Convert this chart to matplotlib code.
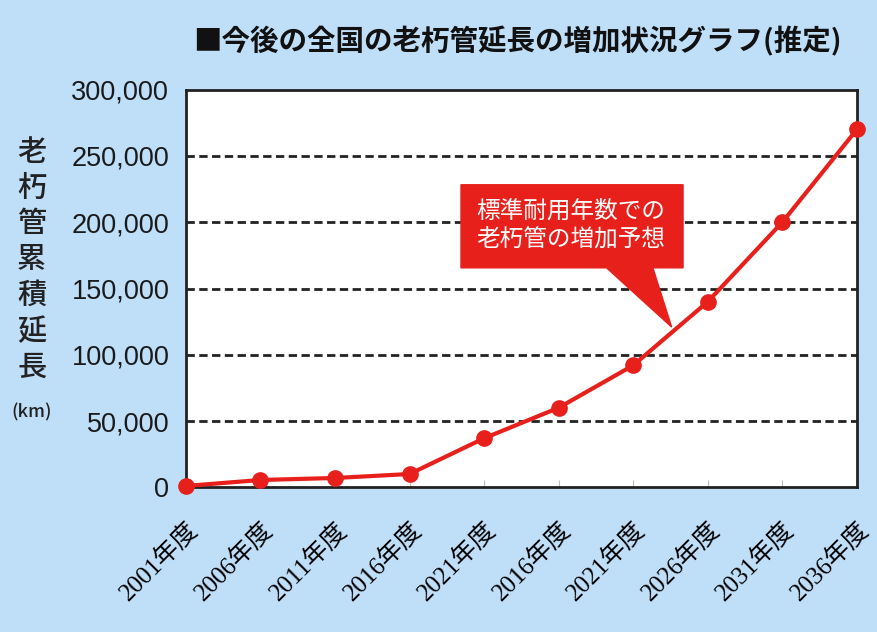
import matplotlib.pyplot as plt
from matplotlib.patches import Polygon
from matplotlib.ticker import FuncFormatter

plt.rcParams['font.family'] = ['Noto Sans CJK JP', 'DejaVu Sans']

# 年度ラベル(元の図のまま)
years = ['2001年度', '2006年度', '2011年度', '2016年度', '2021年度',
         '2016年度', '2021年度', '2026年度', '2031年度', '2036年度']
# 老朽管累積延長 (km)
length_km = [1000, 5500, 7000, 10000, 37000, 60000, 92000, 140000, 200000, 270000]
yticks = [0, 50000, 100000, 150000, 200000, 250000, 300000]

bg = '#bfdef8'
red = '#e8201c'

fig = plt.figure(figsize=(8.77, 6.32), dpi=100, facecolor=bg)
ax = fig.add_axes([0.212, 0.229, 0.765, 0.629])
ax.set_facecolor('white')

x = list(range(len(years)))
ax.plot(x, length_km, color=red, lw=3, marker='o', ms=11, mec=red, mfc=red,
        clip_on=False, zorder=5)

ax.set_xlim(0, len(years) - 1)
ax.set_ylim(0, 300000)
ax.set_yticks(yticks)
ax.yaxis.set_major_formatter(FuncFormatter(lambda v, p: '{:,.0f}'.format(v)))
ax.tick_params(axis='y', length=0, pad=12)
for lab in ax.get_yticklabels():
    lab.set_family(['Liberation Sans', 'DejaVu Sans'])
    lab.set_fontsize(19.5)
    lab.set_color('#1a1a1a')
ax.set_xticks(x)
ax.set_xticklabels(years, rotation=45, ha='right', rotation_mode='anchor',
                   family=['Liberation Serif', 'Noto Sans CJK JP'], fontsize=18)
ax.tick_params(axis='x', length=5, direction='in', color='#bbbbbb', pad=22)

for y in yticks[1:-1]:
    ax.axhline(y, color='#222222', lw=2, ls=(0, (3, 1.6)), zorder=1)
for s in ax.spines.values():
    s.set_color('#222222')
    s.set_linewidth(2)

# 縦書きの軸ラベル
fig.text(0.036, 0.589, '老\n朽\n管\n累\n積\n延\n長', ha='center', va='center',
         fontsize=21, linespacing=1.2, fontweight='medium', color='#222222')
fig.text(0.036, 0.348, '(km)', ha='center', va='center', fontsize=13,
         fontweight='medium', color='#222222')

fig.text(0.59, 0.935, '■今後の全国の老朽管延長の増加状況グラフ(推定)', ha='center', va='center',
         fontsize=20.5, fontweight='bold', color='#111111')

# 吹き出し
box = Polygon([(0.41, 0.552), (0.41, 0.761), (0.741, 0.761), (0.741, 0.552),
               (0.696, 0.552), (0.724, 0.403), (0.627, 0.552)],
              closed=True, transform=ax.transAxes, fc=red, ec=red, zorder=6)
ax.add_patch(box)
ax.text(0.574, 0.657, '標準耐用年数での\n老朽管の増加予想', transform=ax.transAxes,
        ha='center', va='center', color='white', fontsize=17, linespacing=1.3, zorder=7)

fig.savefig('out.png', dpi=100, facecolor=bg)
